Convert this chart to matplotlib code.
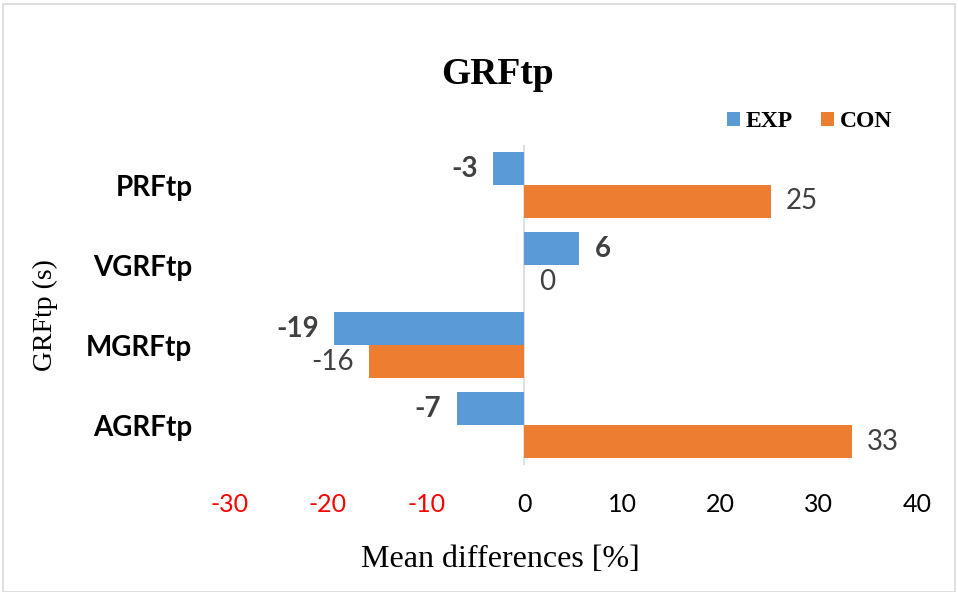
import numpy as np
import matplotlib.pyplot as plt
from matplotlib.patches import Rectangle

categories = ["AGRFtp", "MGRFtp", "VGRFtp", "PRFtp"]
exp_vals = [-6.9, -19.4, 5.6, -3.2]
con_vals = [33.4, -15.8, 0.0, 25.1]
xticks = [-30, -20, -10, 0, 10, 20, 30, 40]

blue = "#5b9bd5"
orange = "#ed7d31"
label_col = "#404040"
sans = ["Lato", "DejaVu Sans"]
serif = ["Liberation Serif", "DejaVu Serif"]

fig = plt.figure(figsize=(9.58, 5.92), dpi=100)
fig.patches.append(Rectangle((0.003, 0.0), 0.994, 0.993, transform=fig.transFigure,
                             fill=False, edgecolor="#d9d9d9", lw=1.2))
ax = fig.add_axes([0.240, 0.214, 0.717, 0.541])

y = np.arange(len(categories))
h = 0.41
ax.barh(y + h / 2, exp_vals, height=h, color=blue, label="EXP")
ax.barh(y - h / 2, con_vals, height=h, color=orange, label="CON")

for yi, v in zip(y, exp_vals):
    ax.annotate(f"{v:.0f}", (v, yi + h / 2), xytext=(-11 if v < 0 else 11, 0),
                textcoords="offset points", ha="right" if v < 0 else "left", va="center",
                fontsize=20, fontweight="bold", color=label_col, family=sans)
for yi, v in zip(y, con_vals):
    ax.annotate(f"{v:.0f}", (v, yi - h / 2), xytext=(-11 if v < 0 else 11, 0),
                textcoords="offset points", ha="right" if v < 0 else "left", va="center",
                fontsize=20, color=label_col, family=sans)

ax.axvline(0, color="#d9d9d9", lw=1.2, zorder=0)
ax.set_xlim(-30, 40)
ax.set_ylim(-0.5, len(categories) - 0.5)
ax.set_xticks(xticks)
ax.set_xticklabels([str(t) for t in xticks], family=sans, fontsize=18)
for lab, t in zip(ax.get_xticklabels(), xticks):
    lab.set_color("red" if t < 0 else "black")
ax.set_yticks(y)
ax.set_yticklabels(categories, family=sans, fontsize=20, fontweight="bold")
ax.tick_params(length=0)
ax.tick_params(axis="x", pad=20)
ax.tick_params(axis="y", pad=27)
for s in ax.spines.values():
    s.set_visible(False)

ax.set_xlabel("Mean differences [%]", family=serif, fontsize=23)
ax.xaxis.set_label_coords(0.394, -0.25)
fig.text(0.047, 0.468, "GRFtp (s)", rotation=90, ha="center", va="center",
         family=serif, fontsize=20)
fig.text(0.519, 0.875, "GRFtp", ha="center", va="center", family=serif,
         fontsize=27, fontweight="bold")

leg = fig.legend(*ax.get_legend_handles_labels(), loc="center",
                 bbox_to_anchor=(0.845, 0.794), ncol=2, frameon=False,
                 prop={"family": serif, "weight": "bold", "size": 17},
                 handlelength=0.55, handleheight=0.55, columnspacing=1.2, handletextpad=0.25)

fig.savefig("out.png", dpi=100)
